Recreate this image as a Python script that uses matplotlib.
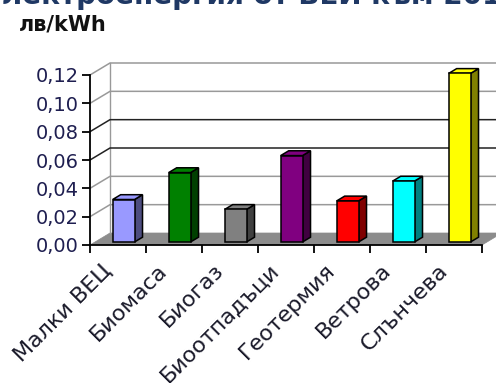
import matplotlib.pyplot as plt
import matplotlib.ticker as ticker
from matplotlib.patches import Polygon

# Feed-in prices for renewable electricity, lv/kWh
sources = ["Малки ВЕЦ", "Биомаса", "Биогаз", "Биоотпадъци",
           "Геотермия", "Ветрова", "Слънчева"]
prices = [0.030, 0.049, 0.023, 0.061, 0.029, 0.043, 0.119]
front_colors = ["#9999FF", "#008000", "#808080", "#800080",
                "#FF0000", "#00FFFF", "#FFFF00"]
side_colors = ["#4D4D80", "#004000", "#404040", "#400040",
               "#800000", "#008080", "#808000"]
yticks = [0.00, 0.02, 0.04, 0.06, 0.08, 0.10, 0.12]

W, H = 496, 383
fig = plt.figure(figsize=(W / 100, H / 100), dpi=100)

# axes placed in pixels: x -0.5 at px 90, 56 px per category; y 0 at px 245 from top
px_x = 56.0
px_y = 170.0 / 0.12
x0, y0 = 90, 245
xmin, xmax = -0.5, 7.0
ymin, ymax = 0.0, 0.13
ax = fig.add_axes([x0 / W, (H - y0) / H,
                   (xmax - xmin) * px_x / W, (ymax - ymin) * px_y / H])
ax.set_xlim(xmin, xmax)
ax.set_ylim(ymin, ymax)
ax.patch.set_visible(False)

# depth of the 3d box
ddx = 20 / px_x
ddy = 12 / px_y
n = len(sources)
left, right = -0.5, n - 0.5
top = yticks[-1]

# floor
ax.add_patch(Polygon([(left, 0), (right, 0), (right + ddx, ddy), (left + ddx, ddy)],
                     closed=True, facecolor="#8c8c8c", edgecolor="#8c8c8c", lw=0.5, zorder=1))
# walls and grid
ax.plot([left + ddx, left + ddx], [ddy, top + ddy], color="#999999", lw=1, zorder=1)
for v in yticks[1:]:
    c = "#999999" if v in (0.12, 0.10, 0.04, 0.02) else "#222222"
    ax.plot([left, left + ddx, right + ddx], [v, v + ddy, v + ddy],
            color=c, lw=1.1, zorder=1)

# bars with side and top faces
bw = 0.39
off_y = 0.25 * ddy
sdx = 0.4 * ddx
sdy = 0.4 * ddy
xs = [i + 0.1 for i in range(n)]
ax.bar(xs, prices, width=bw, bottom=off_y, color=front_colors,
       edgecolor="black", lw=1.1, zorder=3)
for x, v, fc, sc in zip(xs, prices, front_colors, side_colors):
    xl, xr = x - bw / 2, x + bw / 2
    yt = v + off_y
    ax.add_patch(Polygon([(xr, off_y), (xr + sdx, off_y + sdy), (xr + sdx, yt + sdy), (xr, yt)],
                         closed=True, facecolor=sc, edgecolor="black", lw=1.1, zorder=2))
    ax.add_patch(Polygon([(xl, yt), (xr, yt), (xr + sdx, yt + sdy), (xl + sdx, yt + sdy)],
                         closed=True, facecolor=fc, edgecolor="black", lw=1.1, zorder=2))

# axes
for s in ["top", "right"]:
    ax.spines[s].set_visible(False)
ax.spines["left"].set_bounds(0, top)
ax.spines["bottom"].set_bounds(left, right)
ax.spines["left"].set_linewidth(1.3)
ax.spines["bottom"].set_linewidth(1.3)
ax.spines["left"].set_zorder(4)
ax.spines["bottom"].set_zorder(4)

ax.set_yticks(yticks)
ax.yaxis.set_major_formatter(ticker.FuncFormatter(lambda v, p: f"{v:.2f}".replace(".", ",")))
ax.tick_params(axis="y", direction="out", length=6, width=1.3, pad=2,
               labelsize=14, labelcolor="#1e1e50")

ax.set_xticks([i - 0.3 for i in range(n)])
ax.set_xticks([i - 0.5 for i in range(n + 1)], minor=True)
ax.tick_params(axis="x", which="major", length=0, pad=11)
ax.tick_params(axis="x", which="minor", direction="out", length=6, width=1.3)
ax.set_xticklabels(sources, rotation=45, ha="right", va="top", rotation_mode="anchor",
                   fontsize=16, color="#1a1a2a")

fig.text(19 / W, 1 - 15 / H, "лв/kWh", fontsize=15, fontweight="bold",
         ha="left", va="top", color="#111111")
fig.text(-17 / W, 1 - 4 / H, "електроенергия от ВЕИ към 2010 г.",
         fontsize=20, fontweight="bold", ha="left", va="baseline", color="#1f3864")

fig.savefig("out.png", dpi=100)
